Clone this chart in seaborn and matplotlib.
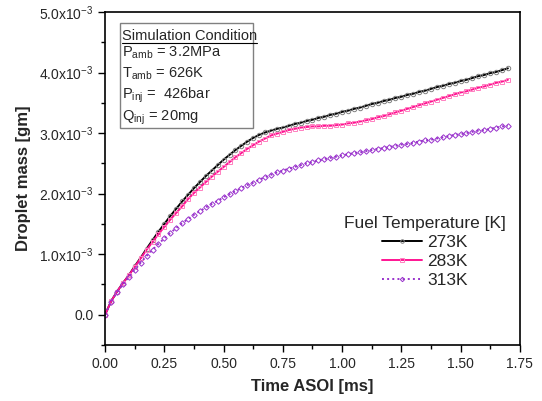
import numpy as np
import pandas as pd
import seaborn as sns
import matplotlib.pyplot as plt
from matplotlib.ticker import FuncFormatter, MultipleLocator
from matplotlib.patches import Rectangle

# time after start of injection [ms], 0.0 .. 1.7 step 0.025
time_ms = [round(0.025 * i, 3) for i in range(69)]

# droplet mass, in units of 1e-3 gm
mass_273 = [0.00, 0.22, 0.38, 0.52, 0.65, 0.80, 0.94, 1.09, 1.23, 1.37,
            1.50, 1.63, 1.75, 1.87, 1.98, 2.09, 2.19, 2.29, 2.38, 2.47,
            2.56, 2.64, 2.72, 2.79, 2.86, 2.92, 2.97, 3.01, 3.04, 3.07,
            3.09, 3.12, 3.15, 3.17, 3.20, 3.22, 3.25, 3.27, 3.30, 3.32,
            3.35, 3.37, 3.40, 3.42, 3.45, 3.48, 3.50, 3.53, 3.55, 3.58,
            3.60, 3.63, 3.65, 3.68, 3.70, 3.73, 3.76, 3.78, 3.81, 3.83,
            3.86, 3.88, 3.91, 3.94, 3.96, 3.99, 4.01, 4.04, 4.07]
mass_283 = [0.00, 0.22, 0.38, 0.52, 0.65, 0.79, 0.93, 1.07, 1.20, 1.33,
            1.45, 1.57, 1.68, 1.79, 1.91, 2.01, 2.10, 2.19, 2.28, 2.36,
            2.44, 2.52, 2.60, 2.67, 2.74, 2.80, 2.86, 2.91, 2.96, 2.99,
            3.02, 3.05, 3.07, 3.09, 3.10, 3.11, 3.11, 3.12, 3.12, 3.13,
            3.14, 3.16, 3.17, 3.19, 3.21, 3.23, 3.26, 3.28, 3.31, 3.34,
            3.37, 3.40, 3.43, 3.46, 3.49, 3.52, 3.55, 3.58, 3.61, 3.64,
            3.67, 3.69, 3.72, 3.75, 3.77, 3.80, 3.83, 3.85, 3.88]
mass_313 = [0.00, 0.21, 0.37, 0.50, 0.62, 0.74, 0.86, 0.97, 1.07, 1.17,
            1.26, 1.35, 1.43, 1.51, 1.58, 1.65, 1.71, 1.77, 1.83, 1.88,
            1.94, 1.99, 2.04, 2.09, 2.14, 2.18, 2.23, 2.27, 2.31, 2.35,
            2.38, 2.41, 2.44, 2.47, 2.50, 2.52, 2.55, 2.57, 2.59, 2.61,
            2.63, 2.65, 2.67, 2.68, 2.70, 2.72, 2.74, 2.75, 2.77, 2.79,
            2.81, 2.82, 2.84, 2.86, 2.88, 2.89, 2.91, 2.93, 2.95, 2.97,
            2.98, 3.00, 3.02, 3.04, 3.05, 3.07, 3.09, 3.11, 3.12]

labels = ["273K", "283K", "313K"]
line_colors = ["#000000", "#ff1493", "#9932cc"]
marker_colors = ["#808080", "#ff80c0", "#9932cc"]
markers = ["o", "s", "D"]
styles = ["-", "-", ":"]

cond_lines = [r"P$_{\mathregular{amb}}$ = 3.2MPa",
              r"T$_{\mathregular{amb}}$ = 626K",
              r"P$_{\mathregular{inj}}$ =  426bar",
              r"Q$_{\mathregular{inj}}$ = 20mg"]

sns.set_style("ticks")
plt.rcParams['font.family'] = ['Liberation Sans', 'DejaVu Sans']

fig = plt.figure(figsize=(5.42, 4.01), dpi=100)
ax = fig.add_axes([0.194, 0.140, 0.765, 0.830])

for lab, ys, lc, mc, mk, ls in zip(labels, [mass_273, mass_283, mass_313],
                                   line_colors, marker_colors, markers, styles):
    df = pd.DataFrame({"t": time_ms, "m": np.array(ys) * 1e-3})
    sns.lineplot(x="t", y="m", data=df, ax=ax, color=lc, linestyle=ls,
                 linewidth=1.4, marker=mk, markersize=3.2 if mk != "D" else 2.8,
                 markerfacecolor="none", markeredgecolor=mc,
                 markeredgewidth=0.7, label=lab)

ax.set_xlim(0, 1.75)
ax.set_ylim(-0.5e-3, 5.0e-3)
ax.xaxis.set_major_locator(MultipleLocator(0.25))
ax.xaxis.set_minor_locator(MultipleLocator(0.125))
ax.yaxis.set_major_locator(MultipleLocator(1e-3))
ax.yaxis.set_minor_locator(MultipleLocator(0.5e-3))
ax.xaxis.set_major_formatter(FuncFormatter(lambda v, p: f"{v:.2f}"))


def yfmt(v, p):
    if abs(v) < 1e-9:
        return "0.0"
    return f"{v * 1e3:.1f}x10" + r"$^{\mathregular{-3}}$"


ax.yaxis.set_major_formatter(FuncFormatter(yfmt))
ax.tick_params(axis="both", which="major", direction="out", length=5,
               width=1, labelsize=10, color="black")
ax.tick_params(axis="both", which="minor", direction="out", length=3,
               width=1, color="black")
for s in ax.spines.values():
    s.set_visible(True)
    s.set_linewidth(1.2)
    s.set_color("black")

ax.set_xlabel("Time ASOI [ms]", fontsize=12, fontweight="bold", labelpad=6)
ax.set_ylabel("Droplet mass [gm]", fontsize=12, fontweight="bold", labelpad=6)

# simulation condition box
ax.add_patch(Rectangle((0.036, 0.652), 0.321, 0.314, transform=ax.transAxes,
                       fill=False, edgecolor="#808080", linewidth=1))
title = ax.text(0.041, 0.917, "Simulation Condition", transform=ax.transAxes,
                fontsize=10.5, va="baseline")
for i, s in enumerate(cond_lines):
    ax.text(0.041, 0.868 - i * 0.064, s, transform=ax.transAxes,
            fontsize=10.5, va="baseline")
fig.canvas.draw()
bb = title.get_window_extent().transformed(ax.transAxes.inverted())
ax.plot([bb.x0, bb.x1], [bb.y0 - 0.002, bb.y0 - 0.002], transform=ax.transAxes,
        color="black", linewidth=0.8)

leg = ax.legend(title="Fuel Temperature [K]", loc="center",
                bbox_to_anchor=(0.771, 0.279), frameon=False, fontsize=12.5,
                title_fontsize=12.5, handlelength=2.3, handletextpad=0.3,
                labelspacing=0.23, markerscale=0.8, borderpad=0)

fig.savefig("out.png", dpi=100)
